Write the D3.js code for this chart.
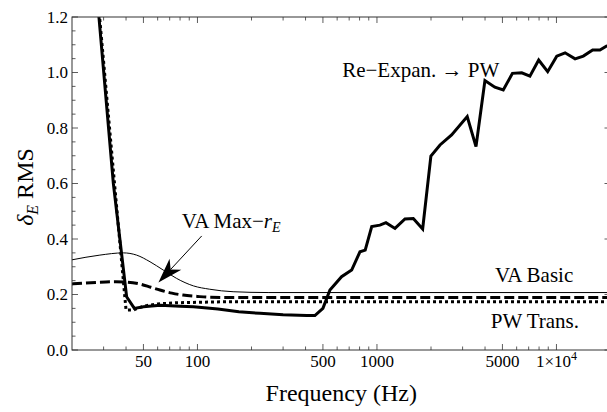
<!DOCTYPE html>
<html><head><meta charset="utf-8">
<script src="https://cdn.jsdelivr.net/npm/d3@7"></script>
</head><body style="margin:0"><svg id="c" width="607" height="412" style="display:block;font-family:'Liberation Serif'"></svg>
<script>
// ---- data ----
const reExpanF = [27.4, 34, 40.3, 44.5, 50, 62, 80, 95, 130, 170, 223, 300, 406, 451, 500, 547, 635, 723, 804, 860, 935, 1039, 1122, 1260, 1432, 1594, 1797, 1997, 2245, 2605, 3183, 3562, 3995, 4537, 5054, 5685, 6406, 7112, 7960, 8934, 10038, 11170, 12695, 14115, 15906, 17466, 19000, 20000];
const reExpanV = [1.3, 0.6, 0.192, 0.150, 0.156, 0.161, 0.158, 0.156, 0.148, 0.138, 0.132, 0.127, 0.124, 0.124, 0.150, 0.216, 0.264, 0.288, 0.354, 0.36, 0.445, 0.450, 0.459, 0.438, 0.472, 0.474, 0.436, 0.699, 0.739, 0.775, 0.841, 0.733, 0.971, 0.947, 0.937, 0.997, 0.999, 0.987, 1.045, 1.003, 1.059, 1.071, 1.049, 1.059, 1.081, 1.081, 1.095, 1.10];
const pwTransF = [27.6, 34.5, 40, 44, 47, 52, 60, 75, 100, 150, 20000];
const pwTransV = [1.3, 0.6, 0.144, 0.144, 0.152, 0.160, 0.166, 0.170, 0.172, 0.174, 0.174];
const vaMaxF = [20, 28, 35, 40, 47.7, 55, 61.8, 72, 83, 100, 117, 150, 200, 20000];
const vaMaxV = [0.238, 0.244, 0.246, 0.245, 0.238, 0.226, 0.216, 0.205, 0.198, 0.193, 0.190, 0.189, 0.189, 0.189];
const vaBasicF = [20, 28.6, 38.6, 45.8, 54.4, 64.5, 76.5, 95, 117, 158, 250, 20000];
const vaBasicV = [0.325, 0.342, 0.350, 0.342, 0.318, 0.288, 0.258, 0.231, 0.219, 0.210, 0.207, 0.207];
const xMajor = [50, 100, 500, 1000, 5000, 10000];
const xMajorLabels = ["50", "100", "500", "1000", "5000", "1×10^4"];
const xMinor = [30, 40, 60, 70, 80, 90, 200, 300, 400, 600, 700, 800, 900, 2000, 3000, 4000, 6000, 7000, 8000, 9000, 20000];
const yMajor = [0, 0.2, 0.4, 0.6, 0.8, 1.0, 1.2];
const yMinor = [0.05,0.1,0.15,0.25,0.3,0.35,0.45,0.5,0.55,0.65,0.7,0.75,0.85,0.9,0.95,1.05,1.1,1.15];

// ---- layout ----
const L = 72, R = 610.5, T = 17, B = 350;
const x = d3.scaleLog().domain([20, 20000]).range([L, R]);
const y = d3.scaleLinear().domain([0, 1.2]).range([B, T]);
const svg = d3.select("#c");
const txt = (sel)=>sel.append("text").attr("font-family","Liberation Serif").style("font-family",'"Liberation Serif"').attr("fill","#000");

svg.append("defs").append("clipPath").attr("id","clip")
  .append("rect").attr("x",L).attr("y",T).attr("width",R-L).attr("height",B-T);

const zip = (F,V)=>F.map((f,i)=>[f,V[i]]);
const lineLin = d3.line().x(d=>x(d[0])).y(d=>y(d[1]));
const lineSm = d3.line().x(d=>x(d[0])).y(d=>y(d[1])).curve(d3.curveMonotoneX);

const g = svg.append("g").attr("clip-path","url(#clip)");
g.append("path").attr("d", lineSm(zip(vaBasicF,vaBasicV))).attr("fill","none").attr("stroke","#000").attr("stroke-width",1);
g.append("path").attr("d", lineSm(zip(vaMaxF,vaMaxV))).attr("fill","none").attr("stroke","#000").attr("stroke-width",3).attr("stroke-dasharray","10,4");
g.append("path").attr("d", lineLin(zip(pwTransF,pwTransV))).attr("fill","none").attr("stroke","#000").attr("stroke-width",3).attr("stroke-dasharray","3,3");
g.append("path").attr("d", lineLin(zip(reExpanF,reExpanV))).attr("fill","none").attr("stroke","#000").attr("stroke-width",3).attr("stroke-linejoin","miter");

// ---- frame ----
const fc = "#333";
svg.append("rect").attr("x",L).attr("y",T).attr("width",R-L).attr("height",B-T)
  .attr("fill","none").attr("stroke",fc).attr("stroke-width",1);

const ax = svg.append("g").attr("stroke",fc).attr("stroke-width",0.8);
xMajor.forEach(f=>{
  ax.append("line").attr("x1",x(f)).attr("x2",x(f)).attr("y1",B).attr("y2",B-6);
  ax.append("line").attr("x1",x(f)).attr("x2",x(f)).attr("y1",T).attr("y2",T+6);
});
xMinor.forEach(f=>{
  ax.append("line").attr("x1",x(f)).attr("x2",x(f)).attr("y1",B).attr("y2",B-3.5);
  ax.append("line").attr("x1",x(f)).attr("x2",x(f)).attr("y1",T).attr("y2",T+3.5);
});
yMajor.forEach(v=>{
  ax.append("line").attr("x1",L).attr("x2",L+6).attr("y1",y(v)).attr("y2",y(v));
  ax.append("line").attr("x1",R).attr("x2",R-6).attr("y1",y(v)).attr("y2",y(v));
});
yMinor.forEach(v=>{
  ax.append("line").attr("x1",L).attr("x2",L+3.5).attr("y1",y(v)).attr("y2",y(v));
  ax.append("line").attr("x1",R).attr("x2",R-3.5).attr("y1",y(v)).attr("y2",y(v));
});

// tick labels
yMajor.forEach(v=>{
  txt(svg).attr("x",L-4).attr("y",y(v)+5.5).attr("text-anchor","end")
    .attr("font-size",17).text(v.toFixed(1));
});
xMajor.forEach((f,i)=>{
  const lab = xMajorLabels[i];
  const t = txt(svg).attr("x",x(f)).attr("y",367).attr("text-anchor","middle")
    .attr("font-size",17);
  if (lab.includes("^")) {
    const [base,exp] = lab.split("^");
    t.append("tspan").text(base);
    t.append("tspan").attr("font-size",12).attr("dy",-7).text(exp);
  } else t.text(lab);
});

// axis titles
txt(svg).attr("x",(L+R)/2).attr("y",401).attr("text-anchor","middle")
  .attr("font-size",24).text("Frequency (Hz)");
const yl = txt(svg).attr("transform","translate(32.5,187) rotate(-90)")
  .attr("text-anchor","middle").attr("font-size",24);
yl.append("tspan").attr("font-style","italic").text("δ");
yl.append("tspan").attr("font-style","italic").attr("font-size",16).attr("dy",5).text("E");
yl.append("tspan").attr("dy",-5).text(" RMS");

// annotations
const af = 21;
txt(svg).attr("x",x(4800)).attr("y",y(0.985)).attr("text-anchor","end")
  .attr("font-size",af).text("Re\u2212Expan. \u2192 PW");
txt(svg).attr("x",x(4539)).attr("y",y(0.246))
  .attr("font-size",af).text("VA Basic");
txt(svg).attr("x",x(4302)).attr("y",y(0.078))
  .attr("font-size",af).text("PW Trans.");
const vm = txt(svg).attr("x",x(81.8)).attr("y",y(0.439))
  .attr("font-size",af);
vm.append("tspan").text("VA Max\u2212");
vm.append("tspan").attr("font-style","italic").text("r");
vm.append("tspan").attr("font-style","italic").attr("font-size",14).attr("dy",4).text("E");

// arrow
const tail = [x(105.6), y(0.411)], tip = [x(60.6), y(0.243)];
const dx = tip[0]-tail[0], dy = tip[1]-tail[1], len = Math.hypot(dx,dy);
const ux = dx/len, uy = dy/len, px = -uy, py = ux;
const hl = 25, hw = 8;
const back = [tip[0]-ux*hl, tip[1]-uy*hl];
const notch = [tip[0]-ux*hl*0.72, tip[1]-uy*hl*0.72];
svg.append("line").attr("x1",tail[0]).attr("y1",tail[1]).attr("x2",notch[0]).attr("y2",notch[1])
  .attr("stroke","#000").attr("stroke-width",1);
svg.append("path").attr("d",`M${tip[0]},${tip[1]}L${back[0]+px*hw},${back[1]+py*hw}L${notch[0]},${notch[1]}L${back[0]-px*hw},${back[1]-py*hw}Z`)
  .attr("fill","#000");
</script></body></html>
